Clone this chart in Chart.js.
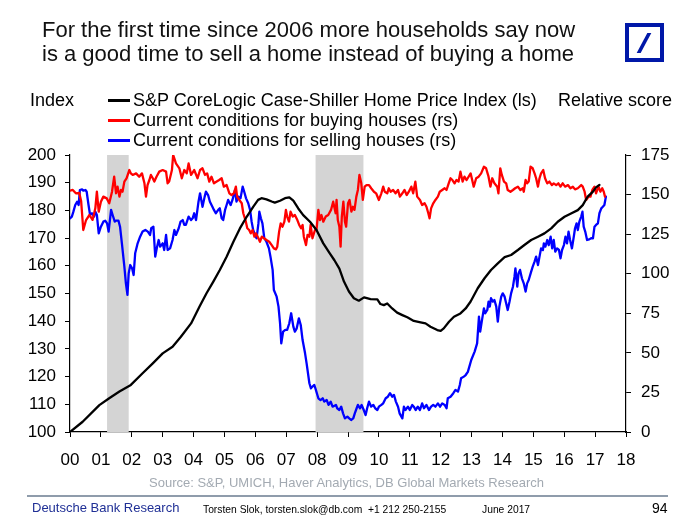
<!DOCTYPE html>
<html>
<head>
<meta charset="utf-8">
<script src="https://cdn.jsdelivr.net/npm/chart.js@4.4.1/dist/chart.umd.min.js"></script>
<style>
  html, body { margin: 0; padding: 0; background: #fff; }
  body { width: 695px; height: 532px; position: relative; overflow: hidden;
         font-family: "Liberation Sans", Arial, sans-serif; color: #000; }
  #c { position: absolute; left: 0; top: 0; }
  .t { position: absolute; white-space: nowrap; line-height: 1; }
  #title { left: 42px; top: 18px; font-size: 22px; line-height: 24px; color: #111; }
  #logo { position: absolute; left: 625px; top: 23px; width: 31px; height: 31px;
          border: 4px solid #0018A8; background: #fff; }
  #logo i { position: absolute; left: 13px; top: 6px; width: 4px; height: 20px;
            background: #0018A8; transform: skewX(-28deg); }
  .leg { position: absolute; height: 3px; width: 22px; left: 108px; }
  .lt { font-size: 18px; }
  #rule { position: absolute; left: 27px; width: 641px; top: 495px; height: 2px; background: #8F9CAB; }
</style>
</head>
<body>
<canvas id="c" width="695" height="532"></canvas>
<div id="title" class="t">For the first time since 2006 more households say now<br>is a good time to sell a home instead of buying a home</div>
<div id="logo"><i></i></div>
<div class="t lt" style="left:30px;top:91px;">Index</div>
<div class="leg" style="top:99px;background:#000;"></div>
<div class="leg" style="top:119px;background:#FF0000;"></div>
<div class="leg" style="top:139px;background:#0000FF;"></div>
<div class="t lt" style="left:133px;top:91px;">S&amp;P CoreLogic Case-Shiller Home Price Index (ls)</div>
<div class="t lt" style="left:133px;top:111px;">Current conditions for buying houses (rs)</div>
<div class="t lt" style="left:133px;top:131px;">Current conditions for selling houses (rs)</div>
<div class="t lt" style="left:558px;top:91px;">Relative score</div>
<div class="t" style="left:149px;top:476px;font-size:13px;color:#A3AAB2;">Source: S&amp;P, UMICH, Haver Analytics, DB Global Markets Research</div>
<div id="rule"></div>
<div class="t" style="left:32px;top:501px;font-size:13px;color:#1F2F95;">Deutsche Bank Research</div>
<div class="t" style="left:203px;top:505px;font-size:10.3px;">Torsten Slok, torsten.slok@db.com&nbsp;&nbsp;+1 212 250-2155</div>
<div class="t" style="left:482px;top:505px;font-size:10.3px;">June 2017</div>
<div class="t" style="left:652px;top:501px;font-size:14px;">94</div>
<script>
// ---- data (decimal years / values) ----
const xTickLabels = ['00','01','02','03','04','05','06','07','08','09','10','11','12','13','14','15','16','17','18'];
const leftTicks = [100,110,120,130,140,150,160,170,180,190,200];
const rightTicks = [0,25,50,75,100,125,150,175];
const recessionStart = [2001.2, 2007.95];
const recessionEnd   = [2001.9, 2009.5];

const hpiYears = [2000.00,2000.41,2000.95,2001.27,2001.60,2001.97,2002.35,2002.68,2003.00,2003.32,2003.59,2003.92,2004.19,2004.42,2004.64,2004.85,2005.07,2005.29,2005.50,2005.72,2005.93,2006.09,2006.20,2006.36,2006.53,2006.63,2006.80,2006.96,2007.10,2007.23,2007.39,2007.55,2007.77,2007.98,2008.20,2008.41,2008.56,2008.72,2008.87,2009.03,2009.19,2009.35,2009.52,2009.73,2009.95,2010.05,2010.16,2010.27,2010.43,2010.59,2010.76,2010.92,2011.13,2011.35,2011.51,2011.67,2011.89,2012.00,2012.10,2012.27,2012.43,2012.64,2012.81,2012.97,2013.20,2013.42,2013.63,2013.85,2014.07,2014.28,2014.50,2014.71,2014.93,2015.15,2015.36,2015.58,2015.79,2016.01,2016.22,2016.44,2016.60,2016.76,2016.93,2017.03,2017.14];
const hpiValues = [100,103.7,109.7,112.2,114.6,117,121.2,124.8,128.4,130.8,134.4,139.2,145.2,150.1,154.3,158.5,163.3,168.7,173.5,177.7,181.3,183.8,184.4,184,183.2,182.8,183.5,184.4,184.7,183.5,180.7,178.3,175.9,172.9,168.1,164.5,162,159,154.3,150.7,148.3,147.4,148.6,148,147.9,146.2,145.8,146.4,144.6,143.1,142.2,141.4,140.1,139.6,139.2,138,136.8,136.5,137.4,139.8,141.6,142.8,144.6,147.1,151.9,155.5,158.5,160.9,163.1,163.9,165.7,167.5,169.3,170.5,171.7,173.5,175.9,177.7,178.9,180.1,181.9,185,186.8,188.3,189.2];

const buyYears = [2000.00,2000.09,2000.19,2000.30,2000.36,2000.43,2000.52,2000.63,2000.73,2000.82,2000.87,2000.93,2001.00,2001.08,2001.19,2001.27,2001.36,2001.43,2001.49,2001.54,2001.60,2001.65,2001.70,2001.76,2001.83,2001.92,2001.97,2002.03,2002.14,2002.24,2002.33,2002.41,2002.46,2002.51,2002.57,2002.62,2002.68,2002.73,2002.80,2002.89,2003.00,2003.11,2003.16,2003.21,2003.30,2003.34,2003.43,2003.54,2003.62,2003.70,2003.78,2003.84,2003.92,2004.02,2004.13,2004.21,2004.29,2004.37,2004.44,2004.51,2004.58,2004.66,2004.75,2004.83,2004.91,2004.98,2005.07,2005.16,2005.23,2005.31,2005.37,2005.41,2005.48,2005.56,2005.61,2005.68,2005.74,2005.80,2005.85,2005.91,2005.97,2006.02,2006.10,2006.15,2006.21,2006.28,2006.36,2006.45,2006.53,2006.60,2006.67,2006.71,2006.77,2006.82,2006.88,2006.94,2006.99,2007.03,2007.09,2007.14,2007.21,2007.28,2007.36,2007.42,2007.48,2007.53,2007.57,2007.64,2007.69,2007.75,2007.79,2007.85,2007.93,2007.98,2008.04,2008.09,2008.14,2008.20,2008.28,2008.36,2008.45,2008.52,2008.60,2008.63,2008.67,2008.72,2008.76,2008.80,2008.85,2008.90,2008.94,2009.00,2009.05,2009.11,2009.16,2009.21,2009.27,2009.32,2009.37,2009.43,2009.48,2009.54,2009.60,2009.68,2009.75,2009.84,2009.91,2010.00,2010.08,2010.14,2010.19,2010.27,2010.32,2010.38,2010.46,2010.54,2010.62,2010.68,2010.76,2010.83,2010.90,2010.97,2011.05,2011.11,2011.18,2011.24,2011.33,2011.40,2011.48,2011.54,2011.60,2011.64,2011.69,2011.76,2011.83,2011.91,2011.97,2012.05,2012.13,2012.19,2012.26,2012.32,2012.38,2012.45,2012.51,2012.58,2012.64,2012.71,2012.77,2012.84,2012.97,2013.02,2013.07,2013.15,2013.23,2013.31,2013.40,2013.47,2013.55,2013.61,2013.67,2013.74,2013.83,2013.87,2013.93,2013.98,2014.05,2014.12,2014.17,2014.26,2014.34,2014.41,2014.50,2014.58,2014.66,2014.69,2014.75,2014.80,2014.85,2014.91,2014.98,2015.04,2015.09,2015.15,2015.20,2015.25,2015.32,2015.38,2015.45,2015.52,2015.60,2015.66,2015.74,2015.81,2015.88,2015.95,2016.03,2016.12,2016.20,2016.28,2016.35,2016.44,2016.55,2016.60,2016.66,2016.71,2016.79,2016.85,2016.91,2016.98,2017.03,2017.11,2017.17,2017.23,2017.28,2017.32];
const buyValues = [152.5,152.9,150.8,151,146,127.6,133.9,137.1,134,141.3,151.8,139.2,145.5,148.7,147.6,144.5,151.8,161.3,150.8,155,148.7,152.9,151.8,158.2,160.3,165.5,163.4,162.4,163.4,161.3,163.4,157.1,148.7,156,159.2,162.4,160.3,158.2,161.3,164.5,165.5,164.5,157.1,158.2,165.5,175,169.7,166.6,160.3,165.5,163.4,169.7,162.4,165.5,160.3,165.5,166.6,162.4,163.4,158.2,161.3,157.1,158.2,159.2,160.3,155,156,150.8,149.7,150.8,155,148.7,146.6,144.5,138.2,133.9,128.7,127.6,125.5,127.6,123.4,125.5,122.4,120.2,123.4,122.4,121.3,120.2,118.1,116,115.4,117.1,126.6,131.8,129.7,132.9,140.3,136.1,132.9,139.2,136.1,137.1,133.9,130.8,128.7,130.8,123.4,118.1,124.5,123.4,130.8,122.4,127.6,127.6,140.3,133.9,137.1,132.9,136.1,137.1,140.3,145.5,138.2,146.6,133.9,129.7,117.1,136.1,145.5,132.9,129.7,144.5,146.6,139.2,142.3,140.3,148.7,152.9,162.4,157.1,146.6,155,156,156,154,151.8,150.8,146.6,150.8,155,151.8,150.8,154,151.8,152.9,150.8,152.9,148.7,150.8,152.9,149.7,151.8,155,150.8,158.2,148.7,146.6,143.4,144.5,142.3,138.2,135,141.3,144.5,146.6,148.7,151.8,152.9,154,152.9,157.1,160.3,159.2,157.1,159.2,158.2,164.5,158.2,161.3,159.2,163.4,159.2,155,160.3,161.3,163.4,167.6,166.6,161.3,155,160.3,157.1,155,150.8,166.6,162.4,158.2,157.1,152.9,151.8,152.9,154,155,152.9,154,151.8,159.2,157.1,158.2,167.6,166.6,163.4,160.3,155,160.3,163.4,165.5,160.3,157.1,158.2,156,157.1,156,157.1,155,157.1,155,156,154,155,153.3,154,156,155,151.8,146.6,148.7,148.7,152.9,155,150.8,155,151.8,154,151.8,148.7];

const sellYears = [2000.00,2000.06,2000.11,2000.17,2000.23,2000.28,2000.32,2000.39,2000.43,2000.50,2000.54,2000.60,2000.65,2000.71,2000.78,2000.82,2000.87,2000.93,2001.00,2001.08,2001.14,2001.20,2001.25,2001.33,2001.38,2001.45,2001.49,2001.57,2001.62,2001.68,2001.76,2001.81,2001.86,2001.90,2001.95,2002.01,2002.06,2002.11,2002.19,2002.27,2002.35,2002.44,2002.52,2002.59,2002.63,2002.70,2002.76,2002.82,2002.87,2002.92,2003.00,2003.05,2003.11,2003.16,2003.24,2003.32,2003.38,2003.43,2003.52,2003.58,2003.65,2003.70,2003.75,2003.84,2003.92,2003.97,2004.02,2004.08,2004.16,2004.21,2004.29,2004.36,2004.40,2004.47,2004.53,2004.61,2004.66,2004.72,2004.80,2004.85,2004.91,2004.96,2005.02,2005.07,2005.12,2005.20,2005.26,2005.34,2005.39,2005.45,2005.52,2005.59,2005.64,2005.70,2005.77,2005.83,2005.88,2005.93,2005.99,2006.04,2006.10,2006.13,2006.18,2006.23,2006.29,2006.36,2006.44,2006.49,2006.56,2006.60,2006.69,2006.75,2006.80,2006.84,2006.90,2006.97,2007.03,2007.10,2007.16,2007.23,2007.28,2007.34,2007.41,2007.47,2007.53,2007.61,2007.66,2007.75,2007.80,2007.85,2007.91,2007.96,2008.04,2008.11,2008.18,2008.23,2008.31,2008.37,2008.44,2008.50,2008.61,2008.65,2008.72,2008.78,2008.84,2008.90,2008.98,2009.04,2009.10,2009.17,2009.22,2009.28,2009.32,2009.39,2009.44,2009.51,2009.57,2009.62,2009.68,2009.75,2009.82,2009.88,2009.95,2010.00,2010.08,2010.14,2010.22,2010.29,2010.36,2010.43,2010.49,2010.55,2010.62,2010.67,2010.76,2010.81,2010.86,2010.94,2011.00,2011.08,2011.13,2011.19,2011.26,2011.33,2011.40,2011.46,2011.54,2011.62,2011.69,2011.76,2011.83,2011.91,2011.98,2012.05,2012.13,2012.19,2012.23,2012.32,2012.41,2012.48,2012.56,2012.62,2012.66,2012.75,2012.81,2012.88,2012.99,2013.10,2013.18,2013.24,2013.28,2013.33,2013.40,2013.44,2013.51,2013.55,2013.59,2013.63,2013.69,2013.74,2013.80,2013.85,2013.90,2013.96,2014.01,2014.07,2014.12,2014.17,2014.23,2014.28,2014.34,2014.39,2014.42,2014.48,2014.52,2014.57,2014.63,2014.69,2014.75,2014.80,2014.85,2014.93,2014.98,2015.04,2015.09,2015.15,2015.20,2015.25,2015.31,2015.34,2015.39,2015.45,2015.50,2015.56,2015.61,2015.66,2015.71,2015.77,2015.83,2015.88,2015.93,2015.99,2016.04,2016.09,2016.14,2016.19,2016.25,2016.31,2016.35,2016.40,2016.44,2016.49,2016.55,2016.59,2016.63,2016.68,2016.74,2016.81,2016.87,2016.93,2016.98,2017.03,2017.09,2017.14,2017.20,2017.25,2017.30,2017.35];
const sellValues = [135,136.1,139.2,143.4,145.5,143.4,152.9,153.3,152.5,152.9,151.8,143.4,137.1,138.2,136.1,139.2,137.1,125.5,129.7,132.9,133.5,131.8,126.6,140.3,137.1,132.9,133.5,133.5,129.7,119.2,104.5,93.9,86.6,100.2,105.5,103.4,99.2,112.9,119.2,123.4,126.6,127.6,126.6,124.5,128.7,129.7,110.8,117.1,121.3,117.1,119.2,115,124.5,115,116,121.3,127.6,124.5,128.7,132.9,133.9,130.8,130.8,136.1,133.9,135,138.2,133.9,145.5,150.8,142.3,148.7,151.8,149.7,145.5,142.3,140.3,138.2,140.3,141.3,135,133.9,140.3,143.4,146.6,143.4,146.6,152.9,145.5,148.7,147.6,155,151.8,147.6,144.5,140.3,132.9,127.6,124.5,122.4,131.8,139.2,135,131.8,122.4,120.2,116,110.8,102.4,89.7,85.5,79.2,68.7,56,63.4,64.5,64.5,68.7,75,66.6,63.4,65.5,71.8,67.6,58.1,49.7,43.4,30.8,27.6,28.7,29.7,26.6,21.3,20.2,21.3,19.2,20.2,17.1,19.2,16,17.1,15,13.9,16,11.8,8.6,9.7,8.6,7.6,8.6,11.8,15,17.1,15,17.1,13.9,10.7,15,19.2,16,17.1,15,13.9,16,17.1,18.1,21.3,22.3,24.5,22.3,23.4,19.2,16,11.8,8.6,16,13.9,16,13.9,17.1,16,13.9,16,13.9,18.1,15,17.1,13.9,16,17.1,16,18.1,16,18.1,17.1,15,21.3,22.3,24.5,26.6,25.5,29.7,33.9,35,36,38,45.5,50.8,56,72.9,63.4,69.7,78.1,75,77.1,82.4,79.2,84.5,82.4,83.4,79.2,69.7,79.2,85.5,87.6,85.5,81.3,77.1,82.4,87.6,91.8,98.1,103.4,91.8,100.2,102.4,97.1,93.9,88.7,93.9,96,101.3,104.5,107.6,110.8,105.5,110.8,116,114.9,119.2,117.1,121.3,118.1,123.4,116,121.3,113.9,116,115,109.7,115,118.1,123.4,119.2,126.6,121.3,116,123.4,128.7,131.8,127.6,132.9,136.1,139.2,129.7,126.6,121.3,121.7,122.4,122.4,129.7,130.8,131.8,138.2,141.3,142.3,143.4,148.7];

// ---- build chart ----
const pts = (xs, ys) => xs.map((x, i) => ({ x: x, y: ys[i] }));
const FONT = "'Liberation Sans', Arial, sans-serif";

const recessionPlugin = {
  id: 'recessions',
  beforeDatasetsDraw(chart) {
    const { ctx, chartArea, scales } = chart;
    ctx.save();
    ctx.fillStyle = '#D4D4D4';
    recessionStart.forEach((s, i) => {
      const x0 = scales.x.getPixelForValue(s);
      const x1 = scales.x.getPixelForValue(recessionEnd[i]);
      ctx.fillRect(x0, chartArea.top, x1 - x0, chartArea.bottom - chartArea.top);
    });
    ctx.restore();
  }
};

new Chart(document.getElementById('c'), {
  type: 'line',
  data: {
    datasets: [
      { label: 'S&P CoreLogic Case-Shiller Home Price Index (ls)', data: pts(hpiYears, hpiValues),
        borderColor: '#000000', yAxisID: 'yL', order: 0 },
      { label: 'Current conditions for buying houses (rs)', data: pts(buyYears, buyValues),
        borderColor: '#FF0000', yAxisID: 'yR', order: 1 },
      { label: 'Current conditions for selling houses (rs)', data: pts(sellYears, sellValues),
        borderColor: '#0000FF', yAxisID: 'yR', order: 2 }
    ]
  },
  options: {
    responsive: false,
    animation: false,
    devicePixelRatio: 1,
    layout: { padding: { top: 155, left: 0, right: 0, bottom: 0 } },
    elements: {
      point: { radius: 0 },
      line: { borderWidth: 2.3, tension: 0, borderJoinStyle: 'round', borderCapStyle: 'round' }
    },
    plugins: { legend: { display: false }, tooltip: { enabled: false }, title: { display: false } },
    scales: {
      x: {
        type: 'linear', min: 2000, max: 2018,
        afterBuildTicks(scale) { scale.ticks = xTickLabels.map((_, i) => ({ value: 2000 + i })); },
        afterFit(scale) { scale.height = 100; },
        ticks: { autoSkip: false, maxRotation: 0, padding: 13, color: '#000',
                 font: { family: FONT, size: 17 },
                 callback: (v) => xTickLabels[Math.round(v - 2000)] },
        grid: { drawOnChartArea: false, drawTicks: true, tickLength: 5, color: '#000' },
        border: { display: true, color: '#000', width: 1.2 }
      },
      yL: {
        position: 'left', min: 100, max: 200,
        afterBuildTicks(scale) { scale.ticks = leftTicks.map(v => ({ value: v })); },
        afterFit(scale) { scale.width = 70; },
        ticks: { padding: 9, color: '#000', font: { family: FONT, size: 17 } },
        grid: { drawOnChartArea: false, drawTicks: true, tickLength: 5, color: '#000' },
        border: { display: true, color: '#000', width: 1.2 }
      },
      yR: {
        position: 'right', min: 0, max: 175,
        afterBuildTicks(scale) { scale.ticks = rightTicks.map(v => ({ value: v })); },
        afterFit(scale) { scale.width = 69; },
        ticks: { padding: 10, color: '#000', font: { family: FONT, size: 17 } },
        grid: { drawOnChartArea: false, drawTicks: true, tickLength: 5, color: '#000' },
        border: { display: true, color: '#000', width: 1.2 }
      }
    }
  },
  plugins: [recessionPlugin]
});
</script>
</body>
</html>
